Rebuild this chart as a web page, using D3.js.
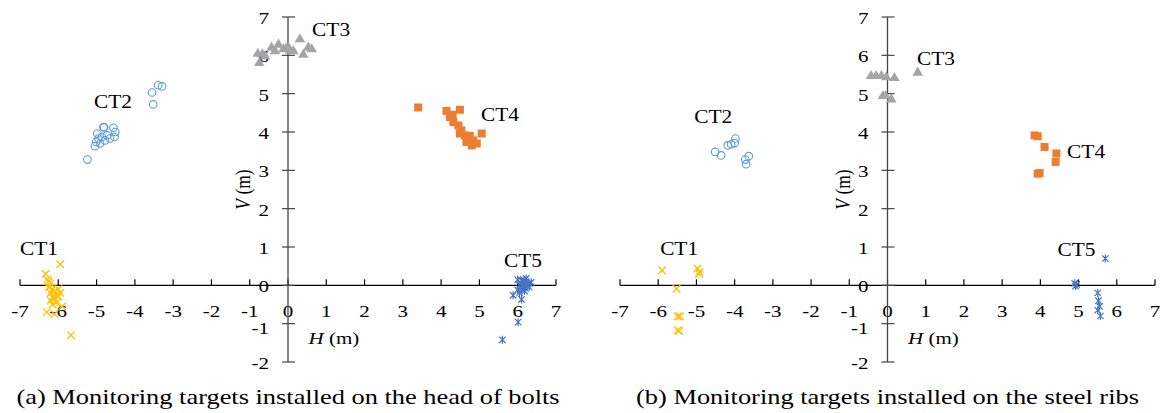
<!DOCTYPE html>
<html><head><meta charset="utf-8">
<script src="https://cdn.jsdelivr.net/npm/d3@7"></script>
<style>
body{margin:0;background:#fff;}
svg text{font-family:"Liberation Serif","Times New Roman",Times,"DejaVu Serif",serif;}
</style></head>
<body><svg id="c" width="1163" height="413"></svg>
<script>
// ---- data (H, V in m) ----
const xTicks = [-7,-6,-5,-4,-3,-2,-1,0,1,2,3,4,5,6,7];
const yTicks = [-2,-1,0,1,2,3,4,5,6,7];
const seriesNames = ["CT1","CT2","CT3","CT4","CT5"];
const captions = ["(a) Monitoring targets installed on the head of bolts","(b) Monitoring targets installed on the steel ribs"];

const ct1A = [[-5.95,0.55],[-6.33,0.3],[-6.28,0.15],[-6.2,0.05],[-6.25,-0.05],[-6.15,-0.1],[-6.1,-0.15],[-6.2,-0.2],[-6.05,-0.25],[-6.15,-0.3],[-6.0,-0.3],[-6.1,-0.35],[-6.2,-0.4],[-5.95,-0.2],[-6.05,-0.45],[-6.15,-0.5],[-5.9,-0.55],[-6.3,-0.7],[-6.1,-0.75],[-5.67,-1.3],[-6.0,-0.1],[-6.25,0.1]];
const ct2A = [[-5.24,3.28],[-3.55,5.03],[-3.39,5.22],[-3.29,5.19],[-3.52,4.72],[-4.82,4.13],[-4.56,4.11],[-4.98,3.96],[-4.51,4.0],[-4.86,3.87],[-4.73,3.91],[-4.65,3.83],[-4.53,3.87],[-5.01,3.74],[-4.91,3.70],[-5.04,3.63],[-4.78,3.78],[-4.95,3.83],[-4.8,4.12]];
const ct3A = [[-0.79,6.06],[-0.75,5.82],[-0.6,6.0],[-0.43,6.22],[-0.25,6.3],[-0.12,6.18],[0.01,6.22],[0.14,6.13],[0.31,6.44],[0.40,6.04],[0.53,6.22],[0.62,6.18],[-0.34,6.13],[-0.67,6.05],[0.05,6.15],[-0.05,6.2]];
const ct4A = [[3.40,4.64],[4.14,4.55],[4.49,4.58],[4.23,4.39],[4.32,4.26],[4.45,4.17],[4.53,4.04],[4.49,3.96],[4.62,3.91],[4.71,3.83],[5.06,3.96],[4.84,3.78],[4.80,3.65],[4.93,3.70],[4.66,3.74],[4.3,4.45],[4.75,3.9]];
const ct5A = [[6.0,0.15],[6.1,0.12],[6.2,0.1],[6.3,0.05],[6.05,0.0],[6.15,-0.02],[6.25,0.02],[6.35,0.08],[6.1,-0.1],[6.2,-0.08],[6.0,-0.12],[6.3,-0.05],[6.14,0.11],[6.22,0.18],[5.88,-0.26],[6.1,-0.37],[6.01,-0.96],[5.6,-1.42],[6.05,-0.2],[6.18,-0.15]];

const ct1B = [[-5.9,0.39],[-4.97,0.44],[-4.92,0.35],[-4.93,0.3],[-5.52,-0.09],[-5.49,-0.81],[-5.43,-0.81],[-5.49,-1.17],[-5.45,-1.19]];
const ct2B = [[-4.51,3.48],[-4.35,3.39],[-4.18,3.65],[-4.09,3.68],[-4.0,3.71],[-3.98,3.83],[-3.63,3.37],[-3.72,3.28],[-3.70,3.16]];
const ct3B = [[-0.43,5.48],[-0.3,5.48],[-0.16,5.48],[-0.03,5.45],[0.18,5.43],[0.79,5.57],[-0.12,4.96],[-0.05,4.96],[0.1,4.87]];
const ct4B = [[3.85,3.91],[3.93,3.89],[4.11,3.61],[4.42,3.44],[4.40,3.22],[3.93,2.91],[3.98,2.93]];
const ct5B = [[4.9,0.05],[4.95,0.02],[4.92,-0.02],[5.5,-0.2],[5.52,-0.4],[5.55,-0.55],[5.5,-0.65],[5.57,-0.8],[5.7,0.7]];

// label anchor positions (data coords, left/baseline)
const labelsA = [[-7.0,0.78],[-5.07,4.62],[0.63,6.50],[5.04,4.29],[5.64,0.48]];
const labelsB = [[-5.95,0.78],[-5.06,4.24],[0.77,5.75],[4.70,3.32],[4.45,0.76]];

const colors = ["#FFC000","#5B9BD5","#A5A5A5","#ED7D31","#4472C4"];

const panels = [
  {x0:20, x1:556, series:[ct1A,ct2A,ct3A,ct4A,ct5A], labels:labelsA, cap:captions[0]},
  {x0:620, x1:1155, series:[ct1B,ct2B,ct3B,ct4B,ct5B], labels:labelsB, cap:captions[1]}
];

const SX = 1.2; // horizontal stretch of the reference text
const svg = d3.select("#c");

function stext(g, x, y, size, anchor){
  return g.append("g").attr("transform",`translate(${x},${y}) scale(${SX},1)`)
    .append("text").attr("x",0).attr("y",0).attr("font-size",size)
    .attr("text-anchor",anchor||"start").attr("fill","#000");
}

function drawMarker(g, type, cx, cy, color){
  if(type===0){ // x
    const s=3.8;
    g.append("path").attr("d",`M${cx-s},${cy-s}L${cx+s},${cy+s}M${cx-s},${cy+s}L${cx+s},${cy-s}`)
      .attr("stroke",color).attr("stroke-width",1.3).attr("fill","none");
  } else if(type===1){ // open circle
    g.append("circle").attr("cx",cx).attr("cy",cy).attr("r",3.8)
      .attr("fill","none").attr("stroke",color).attr("stroke-width",1.1);
  } else if(type===2){ // triangle
    g.append("path").attr("d",d3.symbol(d3.symbolTriangle,48)()).attr("transform",`translate(${cx},${cy+0.8})`)
      .attr("fill",color);
  } else if(type===3){ // square
    g.append("rect").attr("x",cx-4).attr("y",cy-4).attr("width",8).attr("height",8).attr("fill",color);
  } else { // asterisk
    const s=3.2;
    g.append("path").attr("d",`M${cx-s},${cy-s}L${cx+s},${cy+s}M${cx-s},${cy+s}L${cx+s},${cy-s}M${cx},${cy-s-0.8}L${cx},${cy+s+0.8}`)
      .attr("stroke",color).attr("stroke-width",1.2).attr("fill","none");
  }
}

panels.forEach(p=>{
  const x = d3.scaleLinear().domain([-7,7]).range([p.x0,p.x1]);
  const y = d3.scaleLinear().domain([-2,7]).range([362,17]);
  const g = svg.append("g");

  // x axis
  g.append("line").attr("x1",x(-7)).attr("x2",x(7)).attr("y1",y(0)).attr("y2",y(0))
    .attr("stroke","#000").attr("stroke-width",1.4);
  xTicks.forEach(t=>{
    g.append("line").attr("x1",x(t)).attr("x2",x(t)).attr("y1",y(0)).attr("y2",y(0)-6)
      .attr("stroke","#000").attr("stroke-width",1.2);
    stext(g, x(t), y(0)+32, 17.5, "middle").text(t);
  });
  // y axis
  g.append("line").attr("x1",x(0)).attr("x2",x(0)).attr("y1",y(-2)).attr("y2",y(7))
    .attr("stroke","#444").attr("stroke-width",1.3);
  yTicks.forEach(t=>{
    g.append("line").attr("x1",x(0)-6).attr("x2",x(0)+7).attr("y1",y(t)).attr("y2",y(t))
      .attr("stroke","#444").attr("stroke-width",1.2);
    stext(g, x(0)-19, y(t)+(t===-1?10:7), 17.5, "end").text(t);
  });

  // axis titles
  const vt = g.append("g").attr("transform",`translate(${x(0)-38},${y(2.5)}) scale(${SX},1) rotate(-90)`)
    .append("text").attr("text-anchor","middle").attr("font-size",17.5).attr("fill","#000");
  vt.append("tspan").attr("font-style","italic").text("V");
  vt.append("tspan").text(" (m)");
  const ht = stext(g, x(1.2), y(-1.5)+1, 17.5, "middle");
  ht.append("tspan").attr("font-style","italic").text("H");
  ht.append("tspan").text(" (m)");

  // points
  p.series.forEach((s,i)=>{
    s.forEach(d=>drawMarker(g,i,x(d[0]),y(d[1]),colors[i]));
  });
  // labels
  p.labels.forEach((l,i)=>{
    stext(g, x(l[0]), y(l[1]), 17.8).text(seriesNames[i]);
  });
  // caption
  stext(g, (p.x0+p.x1)/2, 404, 22, "middle").text(p.cap);
});
</script></body></html>
